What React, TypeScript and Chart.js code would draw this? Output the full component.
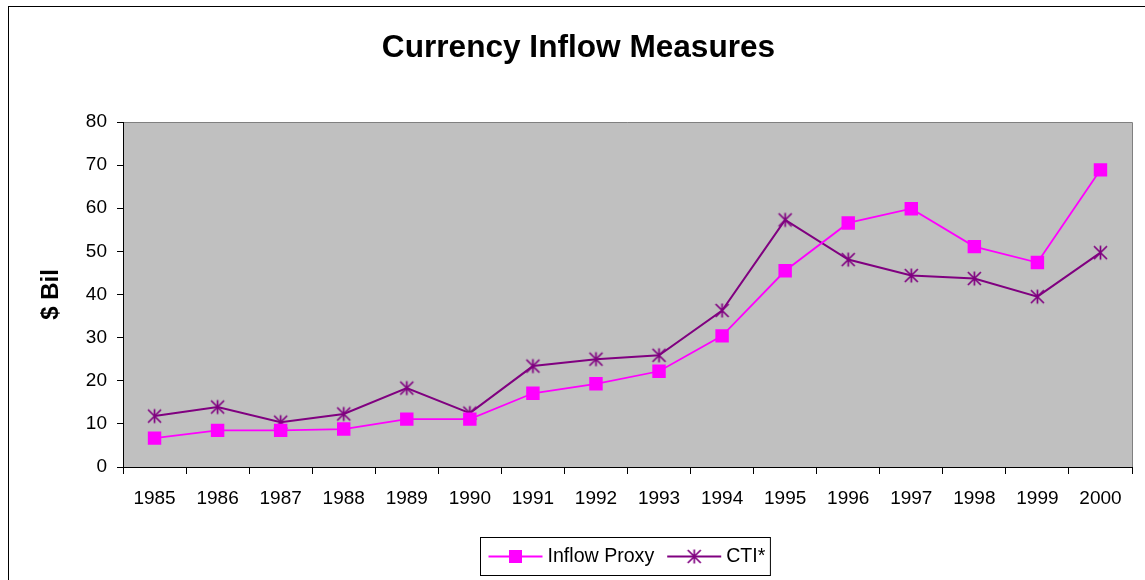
import React, { useEffect, useRef } from "react";
import { Chart, registerables } from "chart.js";

Chart.register(...registerables);

const years = ["1985", "1986", "1987", "1988", "1989", "1990", "1991", "1992", "1993", "1994", "1995", "1996", "1997", "1998", "1999", "2000"];
const inflowProxy = [6.7, 8.5, 8.5, 8.8, 11.1, 11.1, 17.1, 19.3, 22.2, 30.4, 45.5, 56.6, 59.9, 51.1, 47.4, 68.9];
const ctiValues = [11.8, 13.9, 10.4, 12.3, 18.3, 12.5, 23.4, 25.0, 25.9, 36.3, 57.3, 48.1, 44.4, 43.7, 39.5, 49.7];
const seriesNames = ["Inflow Proxy", "CTI*"];
const yMin = 0;
const yMax = 80;
const yStep = 10;
const chartTitle = "Currency Inflow Measures";
const yTitle = "$ Bil";

const FONT = "'Liberation Sans', Arial, Helvetica, sans-serif";
const PINK = "#FF00FF";
const PURPLE = "#800080";

function makeStar(color: string): HTMLCanvasElement {
  const size = 17;
  const c = document.createElement("canvas");
  c.width = size;
  c.height = size;
  const ctx = c.getContext("2d")!;
  const m = size / 2;
  ctx.strokeStyle = color;
  ctx.lineWidth = 1.7;
  ctx.beginPath();
  ctx.moveTo(m, m - 7);
  ctx.lineTo(m, m + 7);
  ctx.moveTo(m - 6.5, m - 6.5);
  ctx.lineTo(m + 6.5, m + 6.5);
  ctx.moveTo(m + 6.5, m - 6.5);
  ctx.lineTo(m - 6.5, m + 6.5);
  ctx.stroke();
  return c;
}

const framePlugin = {
  id: "frame",
  beforeDraw(chart: any) {
    const { ctx, chartArea } = chart;
    ctx.save();
    ctx.fillStyle = "#FFFFFF";
    ctx.fillRect(0, 0, chart.width, chart.height);
    ctx.strokeStyle = "#000000";
    ctx.lineWidth = 1;
    ctx.strokeRect(8.5, 6.5, chart.width + 20, chart.height + 20);
    ctx.fillStyle = "#C0C0C0";
    ctx.fillRect(chartArea.left, chartArea.top, chartArea.right - chartArea.left, chartArea.bottom - chartArea.top);
    ctx.strokeStyle = "#808080";
    ctx.beginPath();
    ctx.moveTo(chartArea.left, chartArea.top + 0.5);
    ctx.lineTo(chartArea.right + 0.5, chartArea.top + 0.5);
    ctx.lineTo(chartArea.right + 0.5, chartArea.bottom);
    ctx.stroke();
    // chart title, centred on the outer frame
    ctx.fillStyle = "#000000";
    ctx.font = `bold 31.6px ${FONT}`;
    ctx.textAlign = "center";
    ctx.textBaseline = "alphabetic";
    ctx.fillText(chartTitle, 578.5, 57);
    ctx.restore();
  },
};

const legendPlugin = {
  id: "boxLegend",
  afterDraw(chart: any) {
    const { ctx } = chart;
    const ds = chart.data.datasets;
    ctx.save();
    ctx.font = `19.6px ${FONT}`;
    const boxX = 480.5;
    const boxY = 537.5;
    const boxH = 38;
    const lineLen = 54;
    const gap = 5;
    const itemGap = 13;
    let width = 8;
    const widths = ds.map((d: any) => ctx.measureText(d.label).width);
    widths.forEach((w: number, i: number) => {
      width += lineLen + gap + w + (i < ds.length - 1 ? itemGap : 5);
    });
    ctx.fillStyle = "#FFFFFF";
    ctx.fillRect(boxX, boxY, width, boxH);
    ctx.strokeStyle = "#000000";
    ctx.lineWidth = 1;
    ctx.strokeRect(boxX, boxY, width, boxH);
    const cy = boxY + boxH / 2;
    let x = boxX + 8;
    ds.forEach((d: any, i: number) => {
      ctx.strokeStyle = d.borderColor;
      ctx.lineWidth = d.borderWidth;
      ctx.beginPath();
      ctx.moveTo(x, cy);
      ctx.lineTo(x + lineLen, cy);
      ctx.stroke();
      const px = x + lineLen / 2;
      if (d.pointStyle === "rect") {
        const s = 13;
        ctx.fillStyle = d.pointBackgroundColor;
        ctx.fillRect(px - s / 2, cy - s / 2, s, s);
      } else {
        const img = d.pointStyle as HTMLCanvasElement;
        ctx.drawImage(img, px - img.width / 2, cy - img.height / 2);
      }
      x += lineLen + gap;
      ctx.fillStyle = "#000000";
      ctx.textBaseline = "middle";
      ctx.textAlign = "left";
      ctx.fillText(d.label, x, cy);
      x += widths[i] + itemGap;
    });
    ctx.restore();
  },
};

export default function App() {
  const canvasRef = useRef<HTMLCanvasElement | null>(null);

  useEffect(() => {
    if (!canvasRef.current) return;
    const star = makeStar(PURPLE);
    const chart = new Chart(canvasRef.current, {
      type: "line",
      data: {
        labels: years,
        datasets: [
          {
            label: seriesNames[0],
            data: inflowProxy,
            borderColor: PINK,
            backgroundColor: PINK,
            borderWidth: 1.8,
            pointStyle: "rect",
            pointRadius: 9.5,
            pointBackgroundColor: PINK,
            pointBorderColor: PINK,
            pointBorderWidth: 0,
            tension: 0,
          },
          {
            label: seriesNames[1],
            data: ctiValues,
            borderColor: PURPLE,
            backgroundColor: PURPLE,
            borderWidth: 2,
            pointStyle: star as any,
            pointRadius: 8,
            tension: 0,
          },
        ],
      },
      options: {
        responsive: false,
        animation: false,
        devicePixelRatio: 1,
        layout: { padding: { left: 0, right: 13, top: 122, bottom: 63 } },
        plugins: {
          legend: { display: false },
          tooltip: { enabled: false },
          title: { display: false },
        },
        scales: {
          x: {
            type: "category",
            offset: true,
            grid: {
              offset: true,
              drawOnChartArea: false,
              drawTicks: true,
              tickLength: 7,
              color: "#000000",
            },
            border: { display: true, color: "#000000", width: 1 },
            ticks: {
              color: "#000000",
              font: { family: FONT, size: 19 },
              padding: 13,
              maxRotation: 0,
              autoSkip: false,
            },
            afterFit(scale: any) {
              scale.height = 50;
            },
          },
          y: {
            min: yMin,
            max: yMax,
            grid: {
              drawOnChartArea: false,
              drawTicks: true,
              tickLength: 6,
              color: "#000000",
            },
            border: { display: true, color: "#000000", width: 1 },
            ticks: {
              stepSize: yStep,
              color: "#000000",
              font: { family: FONT, size: 19 },
              padding: 10,
            },
            title: {
              display: true,
              text: yTitle,
              color: "#000000",
              font: { family: FONT, size: 24, weight: "bold" },
              padding: { top: 37, bottom: 0 },
            },
            afterFit(scale: any) {
              scale.width = 123;
            },
          },
        },
      },
      plugins: [framePlugin, legendPlugin],
    });
    return () => chart.destroy();
  }, []);

  return (
    <div style={{ position: "absolute", left: 0, top: 0, width: 1145, height: 580, overflow: "hidden", background: "#fff" }}>
      <canvas ref={canvasRef} width={1145} height={580} style={{ display: "block" }} />
    </div>
  );
}
